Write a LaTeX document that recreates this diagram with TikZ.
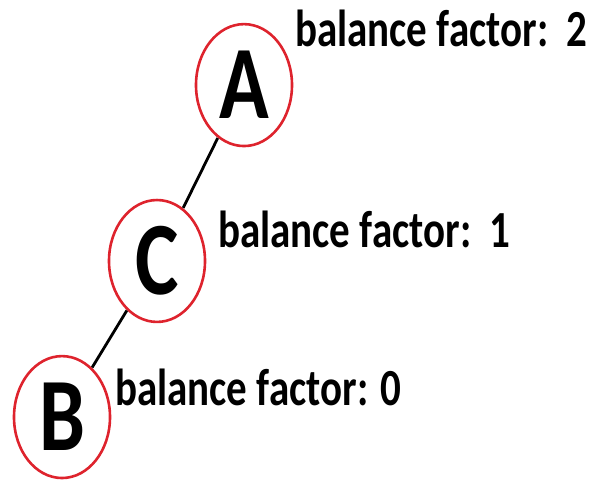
\documentclass[tikz,border=0pt]{standalone}
\usepackage{fontspec}
\setmainfont{Carlito}
\definecolor{nodered}{RGB}{222,35,45}

\begin{document}
\begin{tikzpicture}[x=1pt, y=1pt, yscale=1.27,
    avlnode/.style={circle, draw=nodered, line width=2.6pt, minimum size=96pt,
        inner sep=0pt, font=\fontsize{82}{82}\selectfont\bfseries, transform shape},
    bflabel/.style={anchor=base west, inner sep=0pt,
        font=\fontsize{41}{41}\selectfont\bfseries, transform shape}]
    \useasboundingbox (0,0) rectangle (595,377.2);

    % 结点 A, C, B
    \node[avlnode] (A) at (244,310.2) {A};
    \node[avlnode] (C) at (157,171.7) {C};
    \node[avlnode] (B) at (62,48.8) {B};

    % 边
    \draw[line width=2.8pt] (A) -- (C);
    \draw[line width=2.8pt] (C) -- (B);

    % 平衡因子
    \node[bflabel] (fA) at (295,340.2) {balance factor:\ \ 2};
    \node[bflabel] (fC) at (218,182.7) {balance factor:\ \ 1};
    \node[bflabel] (fB) at (115,58.3) {balance factor: 0};
\end{tikzpicture}
\end{document}
